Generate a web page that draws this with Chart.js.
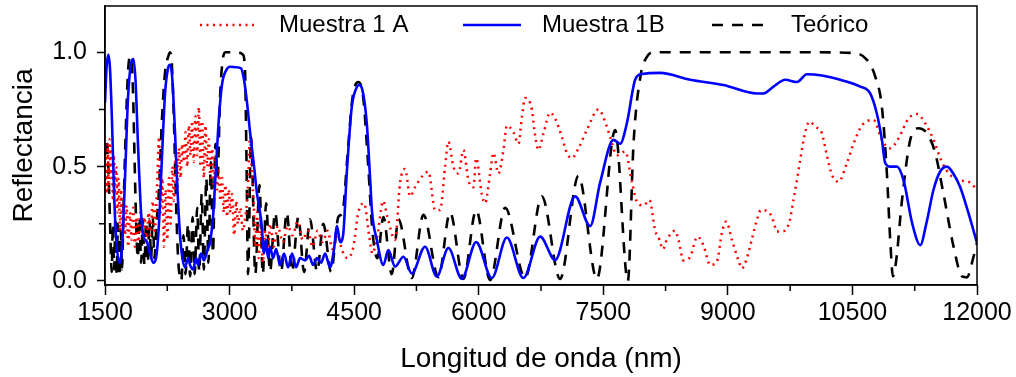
<!DOCTYPE html>
<html>
<head>
<meta charset="utf-8">
<script src="https://cdn.jsdelivr.net/npm/chart.js@4.4.1/dist/chart.umd.min.js"></script>
<style>
  html, body { margin: 0; padding: 0; background: #fff; }
  #wrap { width: 1016px; height: 377px; }
</style>
</head>
<body>
<div id="wrap"><canvas id="chart" width="1016" height="377"></canvas></div>
<script>
// Muestra 1 A (red dotted)
const waveA = [1500,1510,1520,1532,1545,1556,1570,1582,1595,1608,1620,1635,1650,1665,1680,1695,1710,1725,1740,1760,1780,1800,1820,1840,1860,1880,1900,1925,1950,1975,2000,2025,2050,2075,2100,2130,2150,2170,2190,2210,2230,2250,2270,2290,2310,2330,2350,2370,2390,2410,2430,2450,2470,2490,2510,2530,2550,2570,2590,2610,2630,2650,2670,2690,2710,2730,2750,2770,2790,2810,2830,2850,2870,2890,2910,2930,2950,2970,2990,3010,3030,3055,3080,3100,3130,3160,3190,3220,3247,3270,3290,3310,3330,3350,3375,3400,3430,3460,3490,3530,3580,3640,3700,3760,3820,3880,3940,4000,4060,4120,4180,4240,4300,4360,4420,4491,4550,4620,4680,4720,4780,4850,4900,4993,5053,5114,5174,5234,5315,5394,5475,5535,5595,5635,5695,5756,5816,5876,5936,5969,6037,6077,6137,6177,6237,6298,6339,6418,6479,6519,6559,6640,6670,6719,6780,6860,6920,7001,7061,7121,7201,7302,7442,7543,7583,7663,7764,7844,7904,7984,8056,8125,8176,8217,8265,8365,8405,8466,8546,8634,8707,8787,8868,8928,8980,9049,9128,9169,9229,9289,9350,9398,9489,9550,9590,9682,9742,9790,9831,9871,9931,9983,10052,10132,10192,10253,10332,10433,10513,10614,10754,10855,10955,11055,11175,11276,11377,11477,11578,11678,11798,11898,12000];
const reflA = [0.42,0.55,0.38,0.6,0.4,0.62,0.45,0.58,0.35,0.55,0.38,0.5,0.3,0.45,0.22,0.4,0.18,0.35,0.2,0.33,0.15,0.3,0.18,0.32,0.15,0.28,0.17,0.3,0.2,0.28,0.16,0.3,0.2,0.35,0.22,0.45,0.63,0.3,0.45,0.15,0.4,0.18,0.45,0.25,0.5,0.35,0.55,0.4,0.58,0.45,0.6,0.52,0.65,0.5,0.68,0.55,0.7,0.52,0.72,0.55,0.76,0.5,0.7,0.45,0.68,0.5,0.62,0.45,0.58,0.42,0.55,0.4,0.48,0.35,0.45,0.3,0.42,0.28,0.4,0.3,0.38,0.2,0.35,0.25,0.32,0.22,0.28,0.4,0.63,0.45,0.35,0.15,0.3,0.1,0.25,0.08,0.22,0.12,0.25,0.15,0.24,0.17,0.24,0.2,0.26,0.18,0.22,0.15,0.22,0.17,0.22,0.14,0.2,0.13,0.1,0.15,0.3,0.34,0.2,0.12,0.2,0.35,0.28,0.18,0.43,0.49,0.37,0.41,0.456,0.478,0.31,0.31,0.5,0.61,0.5,0.47,0.573,0.44,0.41,0.537,0.38,0.34,0.47,0.56,0.47,0.573,0.68,0.65,0.6,0.713,0.8,0.75,0.66,0.573,0.646,0.736,0.71,0.63,0.56,0.537,0.58,0.66,0.75,0.675,0.63,0.55,0.566,0.434,0.347,0.33,0.354,0.22,0.18,0.139,0.18,0.22,0.18,0.09,0.106,0.194,0.155,0.07,0.085,0.21,0.26,0.18,0.09,0.055,0.1,0.182,0.267,0.31,0.303,0.26,0.216,0.219,0.26,0.354,0.44,0.53,0.65,0.697,0.675,0.646,0.55,0.464,0.434,0.515,0.6,0.68,0.704,0.617,0.58,0.624,0.71,0.73,0.69,0.617,0.52,0.464,0.44,0.434,0.4];

// Muestra 1B (blue solid)
const waveB = [1500,1518,1540,1560,1584,1608,1632,1672,1705,1741,1777,1813,1841,1867,1897,1934,1961,2006,2042,2082,2114,2150,2187,2223,2259,2283,2307,2343,2379,2415,2464,2500,2524,2560,2596,2620,2656,2692,2729,2765,2801,2837,2873,2909,2957,3006,3078,3138,3174,3210,3247,3295,3331,3367,3391,3415,3439,3463,3487,3524,3560,3608,3656,3704,3753,3801,3849,3909,3957,4006,4054,4102,4150,4210,4258,4294,4331,4367,4411,4471,4523,4559,4596,4652,4692,4716,4773,4852,4912,4993,5093,5194,5354,5495,5635,5796,5969,6158,6339,6538,6740,6920,7161,7342,7462,7623,7703,7784,7884,7964,8185,8546,8947,9350,9429,9550,9691,9832,9952,10112,10353,10594,10714,10795,10855,10895,10956,11036,11116,11221,11317,11389,11477,11558,11638,11714,11798,11895,12000];
const reflB = [0.78,0.93,0.99,0.93,0.7,0.4,0.2,0.08,0.15,0.45,0.8,0.95,0.97,0.88,0.6,0.3,0.2,0.17,0.12,0.08,0.1,0.25,0.55,0.82,0.93,0.945,0.9,0.65,0.35,0.15,0.06,0.1,0.07,0.05,0.1,0.07,0.12,0.09,0.13,0.17,0.28,0.5,0.72,0.86,0.92,0.937,0.935,0.93,0.88,0.78,0.65,0.5,0.38,0.3,0.22,0.12,0.18,0.1,0.15,0.1,0.14,0.07,0.12,0.06,0.12,0.06,0.1,0.09,0.11,0.07,0.1,0.08,0.12,0.06,0.14,0.24,0.17,0.2,0.47,0.76,0.84,0.857,0.84,0.69,0.45,0.3,0.18,0.07,0.135,0.063,0.106,0.033,0.15,0.02,0.144,0.01,0.17,0.013,0.19,0.013,0.194,0.092,0.37,0.24,0.43,0.617,0.6,0.69,0.88,0.905,0.91,0.88,0.857,0.82,0.82,0.85,0.88,0.87,0.904,0.9,0.88,0.85,0.82,0.73,0.617,0.515,0.5,0.5,0.44,0.25,0.157,0.25,0.4,0.48,0.5,0.47,0.41,0.3,0.166];

// Teórico (black dashed)
const waveT = [1500,1520,1545,1565,1580,1595,1610,1625,1640,1655,1672,1690,1705,1722,1745,1775,1800,1815,1838,1858,1878,1895,1915,1935,1955,1975,1995,2015,2035,2055,2075,2095,2120,2150,2185,2225,2260,2283,2305,2330,2355,2380,2400,2420,2445,2470,2500,2525,2555,2580,2610,2635,2665,2690,2720,2745,2775,2800,2830,2855,2885,2915,2950,3000,3100,3160,3186,3205,3222,3259,3310,3360,3400,3440,3487,3548,3620,3689,3752,3828,3897,3969,4054,4129,4222,4310,4360,4420,4480,4550,4610,4670,4720,4780,4852,4953,5033,5194,5334,5515,5655,5816,5969,6137,6318,6559,6760,6980,7201,7423,7643,7796,7864,7950,8025,8104,9000,10000,10513,10675,10775,10855,10915,10955,10988,11027,11096,11196,11296,11397,11497,11597,11718,11819,11879,11958,12000];
const reflT = [0.55,0.62,0.45,0.2,0.04,0.25,0.05,0.28,0.03,0.25,0.02,0.22,0.05,0.3,0.6,0.9,0.98,0.98,0.82,0.5,0.22,0.1,0.28,0.08,0.27,0.07,0.26,0.08,0.27,0.1,0.28,0.1,0.25,0.4,0.7,0.92,0.98,1.0,0.95,0.7,0.35,0.1,0.02,0.0,0.2,0.03,0.25,0.02,0.28,0.03,0.32,0.04,0.38,0.05,0.45,0.08,0.52,0.12,0.6,0.45,0.8,0.96,1.0,1.0,1.0,0.99,0.92,0.5,0.03,0.63,0.03,0.42,0.03,0.34,0.04,0.3,0.04,0.3,0.04,0.28,0.04,0.27,0.04,0.25,0.04,0.28,0.3,0.55,0.8,0.87,0.8,0.5,0.22,0.1,0.28,0.03,0.27,0.013,0.29,0.017,0.3,0.009,0.31,0.004,0.32,0.013,0.37,0.009,0.46,0.009,0.66,0.0,0.6,0.9,0.98,1.0,1.0,1.0,0.997,0.967,0.894,0.76,0.47,0.18,0.02,0.09,0.35,0.617,0.668,0.646,0.56,0.38,0.15,0.02,0.016,0.106,0.166];

const xTickStep = 1500;
const yTickStep = 0.5;

const legendStart = [200, 463, 712];

const toPoints = (xs, ys) => xs.map((x, i) => ({ x: x, y: ys[i] }));

const fontFamily = "Arial, 'Liberation Sans', sans-serif";

const framePlugin = {
  id: 'frame',
  afterDraw(chart) {
    const ctx = chart.ctx;
    const a = chart.chartArea;
    const xs = chart.scales.x;
    const ys = chart.scales.y;
    ctx.save();
    ctx.strokeStyle = '#000';
    ctx.lineWidth = 1.5;
    ctx.setLineDash([]);
    ctx.strokeRect(a.left, a.top, a.right - a.left, a.bottom - a.top);
    // minor ticks
    ctx.beginPath();
    for (let v = xs.min + xTickStep / 2; v < xs.max; v += xTickStep) {
      const px = xs.getPixelForValue(v);
      ctx.moveTo(px, a.bottom);
      ctx.lineTo(px, a.bottom + 6);
    }
    for (let v = yTickStep / 2; v < ys.max; v += yTickStep) {
      const py = ys.getPixelForValue(v);
      ctx.moveTo(a.left - 6, py);
      ctx.lineTo(a.left, py);
    }
    ctx.stroke();

    // legend inside the plot
    ctx.font = '24px ' + fontFamily;
    ctx.textBaseline = 'middle';
    ctx.fillStyle = '#000';
    chart.data.datasets.forEach((ds, i) => {
      const x0 = legendStart[i];
      const y = a.top + 19;
      ctx.beginPath();
      ctx.setLineDash(ds.borderDash || []);
      ctx.strokeStyle = ds.borderColor;
      ctx.lineWidth = ds.borderWidth;
      ctx.moveTo(x0, y);
      ctx.lineTo(x0 + 58, y);
      ctx.stroke();
      ctx.setLineDash([]);
      ctx.fillText(ds.label, x0 + 79, y);
    });
    ctx.restore();
  }
};

new Chart(document.getElementById('chart'), {
  type: 'line',
  data: {
    datasets: [
      { label: 'Muestra 1 A', data: toPoints(waveA, reflA), borderColor: '#ff0000', borderWidth: 2.5, borderDash: [2, 4.5], order: 1 },
      { label: 'Muestra 1B', data: toPoints(waveB, reflB), borderColor: '#0000ff', borderWidth: 2.6, order: 0 },
      { label: 'Teórico', data: toPoints(waveT, reflT), borderColor: '#000000', borderWidth: 2.6, borderDash: [11, 9], order: 2 }
    ]
  },
  options: {
    responsive: false,
    animation: false,
    devicePixelRatio: 1,
    layout: { padding: { top: 6, right: 39, left: 0, bottom: 0 } },
    elements: {
      point: { radius: 0 },
      line: { cubicInterpolationMode: 'monotone', fill: false }
    },
    plugins: {
      legend: { display: false },
      tooltip: { enabled: false }
    },
    scales: {
      x: {
        type: 'linear',
        min: 1500,
        max: 12000,
        ticks: { stepSize: xTickStep, color: '#000', font: { size: 25, family: fontFamily }, padding: 3, maxRotation: 0, autoSkip: false, callback: v => String(v) },
        grid: { drawOnChartArea: false, tickLength: 10, tickColor: '#000', tickWidth: 1.5 },
        border: { color: '#000', width: 1.5 },
        title: { display: true, text: 'Longitud de onda (nm)', color: '#000', font: { size: 28, family: fontFamily }, padding: { top: 0, bottom: 1 } },
        afterFit: s => { s.height = 92; s.paddingLeft = 0; s.paddingRight = 0; }
      },
      y: {
        min: -0.0175,
        max: 1.2025,
        ticks: { stepSize: yTickStep, includeBounds: false, color: '#000', font: { size: 25, family: fontFamily }, padding: 10, callback: v => v.toFixed(1) },
        grid: { drawOnChartArea: false, tickLength: 8, tickColor: '#000', tickWidth: 1.5 },
        border: { color: '#000', width: 1.5 },
        title: { display: true, text: 'Reflectancia', color: '#000', font: { size: 28, family: fontFamily }, padding: { top: 7, bottom: 0 } },
        afterFit: s => { s.width = 105; s.paddingTop = 0; s.paddingBottom = 0; }
      }
    }
  },
  plugins: [framePlugin]
});
</script>
</body>
</html>
